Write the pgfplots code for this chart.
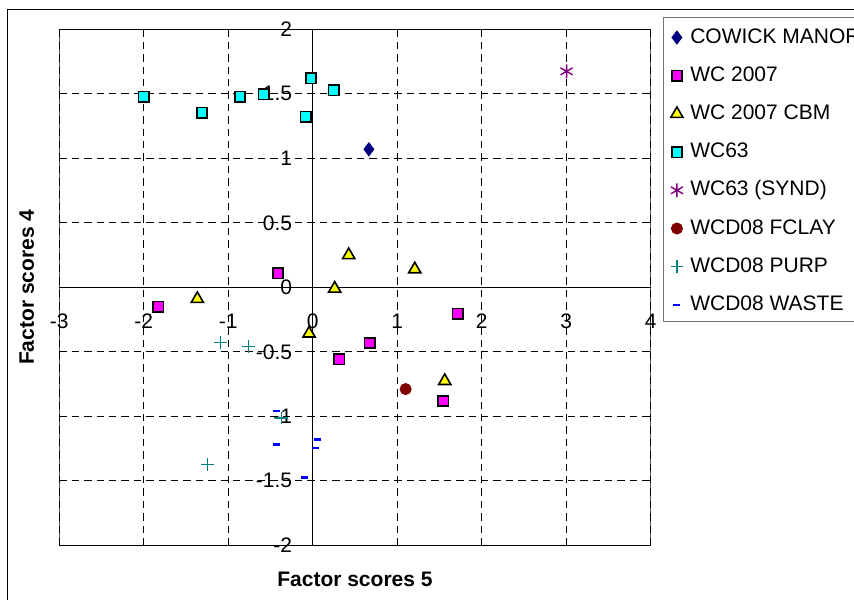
\documentclass[border=0pt]{standalone}
\usepackage{fontspec}
\setmainfont{Liberation Sans}
\usepackage{pgfplots}
\pgfplotsset{compat=1.18}
\definecolor{cnavy}{RGB}{0,0,128}
\definecolor{cmag}{RGB}{255,0,255}
\definecolor{cyel}{RGB}{255,255,0}
\definecolor{ccyan}{RGB}{0,255,255}
\definecolor{cpurp}{RGB}{128,0,128}
\definecolor{cdred}{RGB}{128,0,0}
\definecolor{cteal}{RGB}{0,128,128}
\definecolor{cblue}{RGB}{0,0,255}
\pgfplotsset{
  compactlegend/.style={legend image code/.code={\draw[mark repeat=2,mark phase=2,##1] plot coordinates {(0pt,0pt)(4pt,0pt)(8pt,0pt)};}},
  sc/.style={only marks, compactlegend},
}
\begin{document}
\fontsize{10.5}{12.6}\selectfont
\begin{tikzpicture}
\useasboundingbox (0,0) rectangle (427pt,299.5pt);
\draw[line width=0.5pt] (3.65pt,294.5pt) rectangle (500pt,-20pt);
\draw[line width=0.75pt, draw=black!55] (331.65pt,290.85pt) rectangle (480pt,138.65pt);
\begin{axis}[
  at={(29.65pt,26.85pt)}, anchor=south west,
  scale only axis, width=295.65pt, height=258pt,
  xmin=-3, xmax=4, ymin=-2, ymax=2,
  axis lines=middle, axis line style={-, line width=0.5pt},
  hide obscured x ticks=false, hide obscured y ticks=false,
  xtick={-3,-2,-1,0,1,2,3,4},
  ytick={-2,-1.5,-1,-0.5,0,0.5,1,1.5,2},
  xticklabels={-3,-2,-1,0,1,2,3,4},
  yticklabels={-2,-1.5,-1,-0.5,0,0.5,1,1.5,2},
  tick style={draw=none},
  grid=major,
  grid style={black, line width=0.5pt, dash pattern=on 3.7pt off 2.5pt},
  ticklabel style={font=\fontsize{10.5}{12.6}\selectfont},
  xticklabel style={anchor=center, yshift=-15pt},
  yticklabel style={anchor=east, xshift=-8pt, inner xsep=0pt},
  xlabel={\bfseries Factor scores 5},
  ylabel={\bfseries Factor scores 4},
  xlabel style={at={(axis description cs:0.5,-0.067)}, anchor=center},
  ylabel style={at={(axis description cs:-0.055,0.5)}, anchor=center, rotate=90},
  label style={font=\fontsize{10.5}{12.6}\selectfont},
  legend style={at={(axis description cs:1.033,1.0035)}, anchor=north west,
    draw=none, fill=none, inner sep=0pt, row sep=9.5pt, column sep=3.5pt,
    font=\fontsize{10.5}{12.6}\selectfont,
    nodes={inner sep=0pt, text height=7.6pt, text depth=2pt}},
  legend cell align=left,
]
\addplot[sc, mark=diamond*, mark size=3.3pt, draw=cnavy, fill=cnavy] coordinates {(0.665,1.07)};
\addlegendentry{COWICK MANOR}
\addplot[sc, mark=square*, mark size=2.6pt, draw=black, fill=cmag, line width=0.8pt] coordinates {
(-0.41,0.11) (-1.83,-0.15) (0.315,-0.557) (0.673,-0.431) (1.714,-0.204) (1.546,-0.881)};
\addlegendentry{WC 2007}
\addplot[sc, mark=triangle*, mark size=3.5pt, draw=black, fill=cyel, line width=0.8pt] coordinates {
(0.426,0.25) (1.208,0.14) (0.26,-0.01) (-1.366,-0.09) (-0.043,-0.358) (1.563,-0.726)};
\addlegendentry{WC 2007 CBM}
\addplot[sc, mark=square*, mark size=2.6pt, draw=black, fill=ccyan, line width=0.8pt] coordinates {
(-2.0,1.479) (-1.311,1.355) (-0.862,1.479) (-0.579,1.495) (-0.02,1.619) (-0.083,1.324) (0.247,1.526)};
\addlegendentry{WC63}
\addplot[sc, mark=asterisk, mark size=3.5pt, draw=cpurp, line width=0.7pt] coordinates {(3.005,1.674)};
\addlegendentry{WC63 (SYND)}
\addplot[sc, mark=*, mark size=2.8pt, draw=cdred, fill=cdred] coordinates {(1.10,-0.789)};
\addlegendentry{WCD08 FCLAY}
\addplot[sc, mark=+, mark size=3.2pt, draw=cteal, line width=0.6pt] coordinates {
(-1.091,-0.425) (-0.756,-0.456) (-0.374,-1.013) (-1.248,-1.371)};
\addlegendentry{WCD08 PURP}
\addplot[sc, mark=-, mark size=1.75pt, draw=cblue, line width=1.4pt] coordinates {
(-0.433,-0.959) (-0.433,-1.217) (0.059,-1.181) (0.032,-1.246) (-0.098,-1.475)};
\addlegendentry{WCD08 WASTE}
\draw[line width=0.8pt] (rel axis cs:0,0) rectangle (rel axis cs:1,1);
\end{axis}
\end{tikzpicture}
\end{document}
